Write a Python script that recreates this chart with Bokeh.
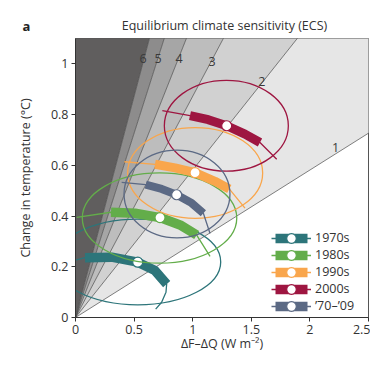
from bokeh.plotting import figure
from bokeh.models import Range1d, FixedTicker, Legend, LegendItem, Label
from bokeh.core.properties import value
from bokeh.embed import file_html
from bokeh.resources import INLINE

FONT = "Open Sans"
TXT = "#333333"

# forcing for a doubling of CO2 (W m-2) used to draw the ECS isolines
F2X = 3.44
ecs_lines = [1, 2, 3, 4, 5, 6]
ecs_fills = ["#e6e6e6", "#d1d1d1", "#bdbdbd", "#a6a6a6", "#8d8c8c", "#605e5e"]
ecs_labels = ["1", "2", "3", "4", "5", "6"]
ecs_label_x = [2.22, 1.59, 1.165, 0.883, 0.704, 0.577]
ecs_label_y = [0.67, 0.93, 1.01, 1.02, 1.022, 1.02]

x_ticks = [0, 0.5, 1, 1.5, 2, 2.5]
x_tick_labels = ["0", "0.5", "1", "1.5", "2", "2.5"]
y_ticks = [0, 0.2, 0.4, 0.6, 0.8, 1]
y_tick_labels = ["0", "0.2", "0.4", "0.6", "0.8", "1"]

series_names = ["1970s", "1980s", "1990s", "2000s", "\u201970\u2013\u201909"]
series_colors = ["#2d757a", "#63ad4a", "#f9a64c", "#9e1641", "#5b6984"]

# best estimates (white dots)
dot_x = [0.531, 0.721, 1.020, 1.290, 0.863]
dot_y = [0.218, 0.394, 0.571, 0.756, 0.484]

# joint-distribution contours (ellipses)
ell_x = [0.531, 0.717, 1.021, 1.287, 0.866]
ell_y = [0.219, 0.392, 0.570, 0.756, 0.487]
ell_w = [1.416, 1.318, 1.152, 1.058, 0.904]
ell_h = [0.338, 0.356, 0.358, 0.358, 0.346]

# 5-95% ranges (thin arcs)
thin_x_1970s = [0.0, 0.081, 0.309, 0.531, 0.678, 0.778, 0.772, 0.735, 0.684]
thin_y_1970s = [0.226, 0.236, 0.238, 0.218, 0.185, 0.132, 0.100, 0.060, 0.033]
thin_x_1980s = [0.010, 0.303, 0.508, 0.721, 0.892, 1.034, 1.148]
thin_y_1980s = [0.395, 0.415, 0.411, 0.394, 0.365, 0.325, 0.241]
thin_x_1990s = [0.417, 0.678, 0.849, 1.020, 1.190, 1.312, 1.446]
thin_y_1990s = [0.614, 0.604, 0.590, 0.571, 0.537, 0.507, 0.431]
thin_x_2000s = [0.741, 0.977, 1.133, 1.290, 1.446, 1.574, 1.717]
thin_y_2000s = [0.816, 0.796, 0.780, 0.756, 0.723, 0.690, 0.624]
thin_x_7009 = [0.394, 0.599, 0.735, 0.863, 0.991, 1.091, 1.148]
thin_y_7009 = [0.533, 0.524, 0.507, 0.484, 0.451, 0.411, 0.331]

# 17-83% ranges (thick arcs)
band_x_1970s = [0.081, 0.309, 0.531, 0.678, 0.778]
band_y_1970s = [0.236, 0.238, 0.218, 0.185, 0.132]
band_x_1980s = [0.303, 0.508, 0.721, 0.892, 1.034]
band_y_1980s = [0.415, 0.411, 0.394, 0.365, 0.325]
band_x_1990s = [0.678, 0.849, 1.020, 1.190, 1.312]
band_y_1990s = [0.604, 0.590, 0.571, 0.537, 0.507]
band_x_2000s = [0.977, 1.133, 1.290, 1.446, 1.574]
band_y_2000s = [0.796, 0.780, 0.756, 0.723, 0.690]
band_x_7009 = [0.599, 0.735, 0.863, 0.991, 1.091]
band_y_7009 = [0.524, 0.507, 0.484, 0.451, 0.411]

thin_xs = [thin_x_1970s, thin_x_1980s, thin_x_1990s, thin_x_2000s, thin_x_7009]
thin_ys = [thin_y_1970s, thin_y_1980s, thin_y_1990s, thin_y_2000s, thin_y_7009]
band_xs = [band_x_1970s, band_x_1980s, band_x_1990s, band_x_2000s, band_x_7009]
band_ys = [band_y_1970s, band_y_1980s, band_y_1990s, band_y_2000s, band_y_7009]
band_widths = [9.5, 9.5, 9, 9, 8]

p = figure(width=370, height=356, x_range=Range1d(0, 2.5), y_range=Range1d(0, 1.1),
           output_backend="svg", toolbar_location=None, title=None,
           min_border_left=75, min_border_right=2, min_border_top=38, min_border_bottom=39)
p.background_fill_color = "white"
p.border_fill_color = "white"
p.outline_line_color = "#555555"
p.outline_line_width = 1
p.xgrid.visible = False
p.ygrid.visible = False

# shaded ECS sectors (far end clipped by the frame)
FAR = 20.0
bounds = ecs_lines + [None]
xs, ys = [], []
for lo, hi in zip(bounds[:-1], bounds[1:]):
    x_hi = F2X * FAR / hi if hi is not None else 0.0
    xs.append([0.0, F2X * FAR / lo, x_hi])
    ys.append([0.0, FAR, FAR])
p.patches(xs, ys, fill_color=ecs_fills, line_color=None)
p.segment(x0=[0.0] * len(ecs_lines), y0=[0.0] * len(ecs_lines),
          x1=[F2X * FAR / e for e in ecs_lines], y1=[FAR] * len(ecs_lines),
          line_color="#4a4a4a", line_width=0.7)
p.text(x=ecs_label_x, y=ecs_label_y, text=ecs_labels, text_font=value(FONT),
       text_font_size="12.5px", text_color="#3a3a3a", text_align="center",
       text_baseline="middle")

items = []
for i, name in enumerate(series_names):
    c = series_colors[i]
    p.ellipse(x=[ell_x[i]], y=[ell_y[i]], width=[ell_w[i]], height=[ell_h[i]],
              fill_color=None, line_color=c, line_width=1.3)
    thin = p.line(thin_xs[i], thin_ys[i], line_color=c, line_width=1.3, line_join="round")
    p.line(band_xs[i], band_ys[i], line_color=c, line_width=band_widths[i],
           line_join="round", line_cap="butt")
    key = p.rect(x=[dot_x[i]], y=[dot_y[i]], width=0, height=0, fill_color=c, line_color=None)
    dot = p.ellipse(x=[dot_x[i]], y=[dot_y[i]], width=10, height=10,
                    width_units="screen", height_units="screen",
                    fill_color="white", line_color=c, line_width=1.2)
    items.append(LegendItem(label=name, renderers=[thin, key, dot]))

legend = Legend(items=items, location=(196, 3), padding=0, spacing=0, margin=0,
                glyph_width=40, glyph_height=12, label_height=17, label_standoff=4,
                background_fill_alpha=0, border_line_alpha=0,
                label_text_font=FONT, label_text_font_size="12.5px", label_text_color=TXT)
p.add_layout(legend)

for ax in (p.xaxis[0], p.yaxis[0]):
    ax.axis_line_color = "#333333"
    ax.axis_line_width = 1
    ax.major_tick_line_color = "#333333"
    ax.major_tick_out = 4
    ax.major_tick_in = 0
    ax.minor_tick_line_color = None
    ax.major_label_text_font = FONT
    ax.major_label_text_font_size = "12.5px"
    ax.major_label_text_color = TXT
    ax.axis_label_text_font = FONT
    ax.axis_label_text_font_size = "12.5px"
    ax.axis_label_text_font_style = "normal"
    ax.axis_label_text_color = TXT

p.xaxis.ticker = FixedTicker(ticks=x_ticks)
p.xaxis.major_label_overrides = dict(zip(x_ticks, x_tick_labels))
p.yaxis.ticker = FixedTicker(ticks=y_ticks)
p.yaxis.major_label_overrides = dict(zip(y_ticks, y_tick_labels))
p.xaxis.axis_label = "\u0394F\u2013\u0394Q (W m\u207b\u00b2)"
p.yaxis.axis_label = "Change in temperature (\u00b0C)"
p.xaxis.major_label_standoff = 3
p.yaxis.major_label_standoff = 3
p.xaxis.axis_label_standoff = -2
p.yaxis.axis_label_standoff = 14

# heading texts in the top panel (title nearest the frame, panel letter stacked above it)
p.add_layout(Label(x=149, y=13, x_units="screen", y_units="screen",
                   text="Equilibrium climate sensitivity (ECS)",
                   text_font=FONT, text_font_size="12.5px", text_font_style="normal",
                   text_color=TXT, text_align="center", text_baseline="middle"),
             "above")
p.add_layout(Label(x=-49, y=-4, x_units="screen", y_units="screen", text="a",
                   text_font=FONT, text_font_size="13px", text_font_style="bold",
                   text_color="#222222", text_align="center", text_baseline="middle"),
             "above")

open("out.html", "w").write(file_html(p, INLINE))
